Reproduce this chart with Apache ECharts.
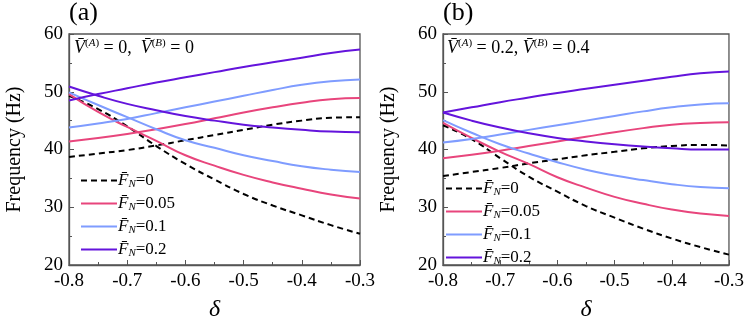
<!DOCTYPE html>
<html>
<head>
<meta charset="utf-8">
<script src="https://cdn.jsdelivr.net/npm/echarts@6/dist/echarts.min.js"></script>
<style>
  html, body { margin: 0; padding: 0; background: #fff; }
  #main { width: 747px; height: 327px; }
</style>
</head>
<body>
<div id="main"></div>
<script>
// delta values (x)
var delta = [-0.8, -0.75, -0.7, -0.65, -0.6, -0.55, -0.5, -0.45, -0.4, -0.35, -0.3];
var fnLabels = ['0', '0.05', '0.1', '0.2'];

// panel (a): V(A)=0, V(B)=0 -- upper / lower branch per F_N
var a_F0_up   = [38.7, 39.3, 39.9, 40.7, 41.6, 42.5, 43.4, 44.3, 45.0, 45.5, 45.6];
var a_F0_lo   = [49.3, 47.0, 44.0, 40.6, 37.5, 34.8, 32.3, 30.3, 28.6, 26.9, 25.4];
var a_F005_up = [41.4, 42.0, 42.7, 43.5, 44.4, 45.4, 46.4, 47.3, 48.1, 48.7, 48.9];
var a_F005_lo = [49.6, 46.5, 43.9, 41.5, 39.0, 37.2, 35.6, 34.3, 33.2, 32.2, 31.5];
var a_F01_up  = [43.8, 44.5, 45.3, 46.3, 47.3, 48.3, 49.3, 50.3, 51.2, 51.8, 52.1];
var a_F01_lo  = [49.9, 47.7, 45.6, 43.5, 41.6, 40.3, 39.0, 38.0, 37.1, 36.5, 36.1];
var a_F02_up  = [48.5, 49.6, 50.6, 51.6, 52.5, 53.4, 54.3, 55.1, 55.9, 56.7, 57.3];
var a_F02_lo  = [50.9, 49.3, 47.9, 46.8, 45.8, 45.0, 44.3, 43.8, 43.4, 43.1, 43.0];

// panel (b): V(A)=0.2, V(B)=0.4
var b_F0_up   = [35.4, 36.1, 36.8, 37.6, 38.3, 39.0, 39.6, 40.2, 40.6, 40.8, 40.7];
var b_F0_lo   = [44.2, 41.8, 38.5, 35.3, 32.7, 30.2, 28.2, 26.3, 24.6, 23.1, 21.8];
var b_F005_up = [38.5, 39.1, 39.8, 40.6, 41.4, 42.2, 43.0, 43.7, 44.3, 44.6, 44.7];
var b_F005_lo = [44.6, 42.0, 39.6, 37.5, 35.2, 33.4, 31.8, 30.6, 29.6, 28.9, 28.5];
var b_F01_up  = [41.2, 41.8, 42.6, 43.4, 44.2, 45.0, 45.8, 46.6, 47.3, 47.8, 48.0];
var b_F01_lo  = [45.1, 42.9, 40.9, 39.3, 37.8, 36.5, 35.5, 34.7, 34.0, 33.5, 33.3];
var b_F02_up  = [46.4, 47.3, 48.2, 49.0, 49.8, 50.5, 51.2, 51.9, 52.6, 53.2, 53.5];
var b_F02_lo  = [46.4, 45.0, 43.8, 42.8, 42.0, 41.4, 40.9, 40.5, 40.2, 40.0, 40.0];

var colors = ['#000000', '#e8457c', '#7f9cff', '#6414dc'];
var serif = "'Liberation Serif', 'Times New Roman', serif";

function pairs(ys) {
  return delta.map(function (d, i) { return [d, ys[i]]; });
}

function lineSeries(idx, ys, gi) {
  return {
    type: 'line',
    name: 'F' + fnLabels[idx],
    xAxisIndex: gi, yAxisIndex: gi,
    data: pairs(ys),
    smooth: 0.5,
    symbol: 'none',
    z: 2 + idx,
    lineStyle: { color: colors[idx], width: 2, type: idx === 0 ? [6, 4] : 'solid' },
    itemStyle: { color: colors[idx] }
  };
}

var grids = [
  { left: 69, top: 34, width: 291, height: 235 },
  { left: 443, top: 34, width: 290, height: 235 }
];

function xAxis(gi) {
  return {
    type: 'value', gridIndex: gi, min: -0.8, max: -0.3, interval: 0.1,
    name: 'δ', nameLocation: 'middle', nameGap: 33,
    nameTextStyle: { fontFamily: serif, fontStyle: 'italic', fontSize: 24, color: '#000' },
    axisLine: { show: true, lineStyle: { color: '#555', width: 1.3 } },
    axisTick: { inside: true, length: 5, lineStyle: { color: '#555' } },
    minorTick: { show: true, splitNumber: 2, length: 3, lineStyle: { color: '#555' } },
    splitLine: { show: false },
    axisLabel: { fontFamily: serif, fontSize: 19, color: '#000', margin: 7,
      formatter: function (v) { return v.toFixed(1); } }
  };
}

function yAxis(gi) {
  return {
    type: 'value', gridIndex: gi, min: 20, max: 60, interval: 10,
    name: 'Frequency (Hz)', nameLocation: 'middle', nameGap: 44,
    nameTextStyle: { fontFamily: serif, fontSize: 20, color: '#000' },
    axisLine: { show: true, lineStyle: { color: '#555', width: 1.3 } },
    axisTick: { inside: true, length: 5, lineStyle: { color: '#555' } },
    minorTick: { show: true, splitNumber: 2, length: 3, lineStyle: { color: '#555' } },
    splitLine: { show: false },
    axisLabel: { fontFamily: serif, fontSize: 19, color: '#000', margin: 6 }
  };
}

var legendRich = {
  f: { fontFamily: serif, fontStyle: 'italic', fontSize: 17, color: '#000' },
  s: { fontFamily: serif, fontStyle: 'italic', fontSize: 11, color: '#000', padding: [8, 0, 0, 0] },
  n: { fontFamily: serif, fontSize: 17, color: '#000' }
};

function legend(left, top) {
  return {
    left: left, top: top, orient: 'vertical', itemGap: 5, padding: 0,
    itemWidth: 36, itemHeight: 14,
    itemStyle: { opacity: 0 },
    data: fnLabels.map(function (l) { return 'F' + l; }),
    textStyle: { rich: legendRich, padding: [0, 0, 0, -4] },
    formatter: function (name) {
      return '{f|F\u0304}{s|N}{n|=' + name.slice(1) + '}';
    }
  };
}

var annRich = {
  v: { fontFamily: serif, fontStyle: 'italic', fontSize: 18, fill: '#000' },
  p: { fontFamily: serif, fontSize: 11, fill: '#000', padding: [0, 0, 9, 0] },
  pi: { fontFamily: serif, fontStyle: 'italic', fontSize: 11, fill: '#000', padding: [0, 0, 9, 0] },
  r: { fontFamily: serif, fontSize: 18, fill: '#000' }
};

function annotation(x, va, vb, sep) {
  return {
    type: 'text', left: x, top: 38, z: 10,
    style: {
      text: '{v|V\u0304}{p|(}{pi|A}{p|)}{r| = ' + va + ',' + sep + '}{v|V\u0304}{p|(}{pi|B}{p|)}{r| = ' + vb + '}',
      rich: annRich
    }
  };
}

var series = [
  lineSeries(0, a_F0_up, 0), lineSeries(0, a_F0_lo, 0),
  lineSeries(1, a_F005_up, 0), lineSeries(1, a_F005_lo, 0),
  lineSeries(2, a_F01_up, 0), lineSeries(2, a_F01_lo, 0),
  lineSeries(3, a_F02_up, 0), lineSeries(3, a_F02_lo, 0),
  lineSeries(0, b_F0_up, 1), lineSeries(0, b_F0_lo, 1),
  lineSeries(1, b_F005_up, 1), lineSeries(1, b_F005_lo, 1),
  lineSeries(2, b_F01_up, 1), lineSeries(2, b_F01_lo, 1),
  lineSeries(3, b_F02_up, 1), lineSeries(3, b_F02_lo, 1)
];

var myChart = echarts.init(document.getElementById('main'), null, { renderer: 'canvas' });
var option = {
  animation: false,
  backgroundColor: '#fff',
  grid: grids.map(function (g) {
    return Object.assign({ show: true, borderColor: '#555', borderWidth: 1.3 }, g);
  }),
  xAxis: [xAxis(0), xAxis(1)],
  yAxis: [yAxis(0), yAxis(1)],
  legend: [legend(80, 172), legend(445, 180)],
  graphic: [
    { type: 'text', left: 69, top: 0, style: { text: '(a)', fontFamily: serif, fontSize: 26, fill: '#000' } },
    { type: 'text', left: 443, top: 0, style: { text: '(b)', fontFamily: serif, fontSize: 26, fill: '#000' } },
    annotation(74, '0', '0', '  '),
    annotation(447, '0.2', '0.4', ' ')
  ],
  series: series
};
myChart.setOption(option);
</script>
</body>
</html>
